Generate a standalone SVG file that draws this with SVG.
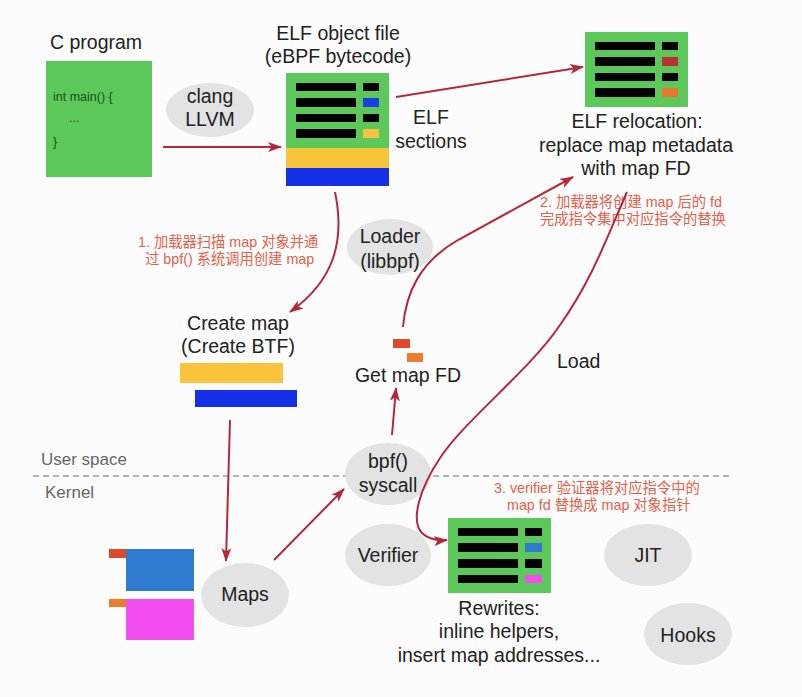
<svg xmlns="http://www.w3.org/2000/svg" width="802" height="697" viewBox="0 0 802 697">
<style>
.lbl{font-family:"Liberation Sans","Noto Sans CJK SC",Arial,sans-serif;font-size:19.5px;fill:#222;}
.mid{text-anchor:middle;}
.note{font-family:"Liberation Sans","Noto Sans CJK SC",sans-serif;font-size:14.3px;fill:#e5604a;}
.code{font-family:"Liberation Sans",Arial,sans-serif;font-size:12.5px;fill:#1d4d1d;}
.ell{fill:#e3e3e3;}
.green{fill:#5cc85a;}
.bar{fill:#000;}
.conn{fill:none;stroke:#b5283c;stroke-width:2;marker-end:url(#ah);}
.gray{font-family:"Liberation Sans",Arial,sans-serif;font-size:17px;fill:#666;}
</style>
<defs>
<marker id="ah" markerUnits="userSpaceOnUse" markerWidth="16" markerHeight="12" refX="13" refY="5" orient="auto">
<path d="M0,0 L14,5 L0,10 L3.5,5 z" fill="#b5283c"/>
</marker>
</defs>
<rect width="802" height="697" fill="#fcfcfc"/>

<line x1="33" y1="476" x2="733" y2="476" stroke="#9a9a9a" stroke-width="1.3" stroke-dasharray="6,4"/>
<text class="gray" x="41" y="465">User space</text>
<text class="gray" x="45" y="498">Kernel</text>

<g id="c-program">
<text class="lbl" x="50" y="49">C program</text>
<rect class="green" x="46" y="61" width="106" height="116"/>
<text class="code" x="53" y="101">int main() {</text>
<text class="code" x="69" y="122">...</text>
<text class="code" x="53" y="146">}</text>
</g>

<g id="clang">
<ellipse class="ell" cx="210" cy="110" rx="44" ry="27"/>
<text class="lbl mid" x="210" y="103">clang</text>
<text class="lbl mid" x="210" y="126">LLVM</text>
</g>

<g id="elf-object">
<text class="lbl mid" x="338" y="40">ELF object file</text>
<text class="lbl mid" x="338" y="63">(eBPF bytecode)</text>
<rect class="green" x="286" y="73" width="103" height="76"/>
<rect x="286" y="148" width="103" height="20" fill="#f7c43c"/>
<rect x="286" y="168" width="103" height="18" fill="#1630e8"/>
<rect class="bar" x="296" y="83" width="60" height="8"/>
<rect class="bar" x="296" y="98" width="60" height="9"/>
<rect class="bar" x="296" y="114" width="60" height="8"/>
<rect class="bar" x="296" y="129" width="60" height="9"/>
<rect class="bar" x="363" y="83" width="16" height="8"/>
<rect x="363" y="98" width="16" height="9" fill="#1a3fe0"/>
<rect class="bar" x="363" y="114" width="16" height="8"/>
<rect x="363" y="129" width="16" height="9" fill="#f5c343"/>
</g>

<g id="elf-sections">
<text class="lbl mid" x="431" y="124">ELF</text>
<text class="lbl mid" x="431" y="148">sections</text>
</g>

<g id="elf-relocation">
<rect class="green" x="585" y="32" width="103" height="75"/>
<rect class="bar" x="595" y="42" width="60" height="8"/>
<rect class="bar" x="595" y="57" width="60" height="9"/>
<rect class="bar" x="595" y="73" width="60" height="8"/>
<rect class="bar" x="595" y="88" width="60" height="9"/>
<rect class="bar" x="662" y="42" width="16" height="8"/>
<rect x="662" y="57" width="16" height="9" fill="#b83232"/>
<rect class="bar" x="662" y="73" width="16" height="8"/>
<rect x="662" y="88" width="16" height="9" fill="#e8762d"/>
<text class="lbl mid" x="637" y="128">ELF relocation:</text>
<text class="lbl mid" x="636" y="152">replace map metadata</text>
<text class="lbl mid" x="636" y="175">with map FD</text>
</g>

<g id="note-2">
<text class="note" x="540" y="207">2. 加载器将创建 map 后的 fd</text>
<text class="note" x="540" y="224">完成指令集中对应指令的替换</text>
</g>

<g id="loader">
<ellipse class="ell" cx="390" cy="247" rx="43" ry="28"/>
<text class="lbl mid" x="390" y="243">Loader</text>
<text class="lbl mid" x="390" y="268">(libbpf)</text>
</g>

<g id="note-1">
<text class="note" x="138" y="247">1. 加载器扫描 map 对象并通</text>
<text class="note" x="145" y="264">过 bpf() 系统调用创建 map</text>
</g>

<g id="create-map">
<text class="lbl mid" x="238" y="330">Create map</text>
<text class="lbl mid" x="238" y="353">(Create BTF)</text>
<rect x="180" y="363" width="103" height="20" fill="#f7c43c"/>
<rect x="195" y="390" width="102" height="17" fill="#1630e8"/>
</g>

<g id="get-map-fd">
<rect x="393" y="339" width="17" height="9" fill="#e04a2c"/>
<rect x="407" y="353" width="16" height="9" fill="#ef7c2a"/>
<text class="lbl mid" x="408" y="382">Get map FD</text>
</g>

<g id="load-label">
<text class="lbl" x="557" y="368">Load</text>
</g>

<g id="bpf-syscall">
<ellipse class="ell" cx="388" cy="474" rx="43" ry="31"/>
<text class="lbl mid" x="388" y="468">bpf()</text>
<text class="lbl mid" x="388" y="492">syscall</text>
</g>

<g id="note-3">
<text class="note" x="494" y="493">3. verifier 验证器将对应指令中的</text>
<text class="note" x="507" y="510">map fd 替换成 map 对象指针</text>
</g>

<g id="map-objects">
<rect x="126" y="549" width="68" height="42" fill="#2f7bd0"/>
<rect x="109" y="549" width="17" height="9" fill="#e04a2c"/>
<rect x="126" y="599" width="68" height="41" fill="#f24ef0"/>
<rect x="109" y="599" width="17" height="8" fill="#ef7c2a"/>
</g>

<g id="maps">
<ellipse class="ell" cx="245" cy="595" rx="44" ry="32"/>
<text class="lbl mid" x="245" y="601">Maps</text>
</g>

<g id="verifier">
<ellipse class="ell" cx="388" cy="555" rx="43" ry="31"/>
<text class="lbl mid" x="388" y="562">Verifier</text>
</g>

<g id="rewrites">
<rect class="green" x="448" y="518" width="103" height="75"/>
<rect class="bar" x="458" y="528" width="60" height="8"/>
<rect class="bar" x="458" y="543" width="60" height="9"/>
<rect class="bar" x="458" y="559" width="60" height="9"/>
<rect class="bar" x="458" y="575" width="60" height="8"/>
<rect class="bar" x="525" y="528" width="17" height="8"/>
<rect x="525" y="543" width="17" height="9" fill="#2f7bd0"/>
<rect class="bar" x="525" y="559" width="17" height="9"/>
<rect x="525" y="575" width="17" height="8" fill="#f24ef0"/>
<text class="lbl mid" x="499" y="615">Rewrites:</text>
<text class="lbl mid" x="499" y="638">inline helpers,</text>
<text class="lbl mid" x="499" y="662">insert map addresses...</text>
</g>

<g id="jit">
<ellipse class="ell" cx="648" cy="555" rx="44" ry="31"/>
<text class="lbl mid" x="648" y="562">JIT</text>
</g>

<g id="hooks">
<ellipse class="ell" cx="688" cy="634" rx="44" ry="31"/>
<text class="lbl mid" x="688" y="642">Hooks</text>
</g>

<g id="connectors">
<path class="conn" d="M163,147 L281,147"/>
<path class="conn" d="M396,97 L583,67"/>
<path class="conn" d="M335,192 C345,240 335,280 290,312"/>
<path class="conn" d="M403,327 C406,292 420,262 458,240 L573,177"/>
<path class="conn" d="M627,192 C608,235 592,280 560,325 C530,370 465,420 440,458 C420,488 410,520 422,533 C428,539 436,541 447,540"/>
<path class="conn" d="M392,435 L396,388"/>
<path class="conn" d="M230,420 L226,561"/>
<path class="conn" d="M274,560 L344,489"/>
</g>
</svg>
